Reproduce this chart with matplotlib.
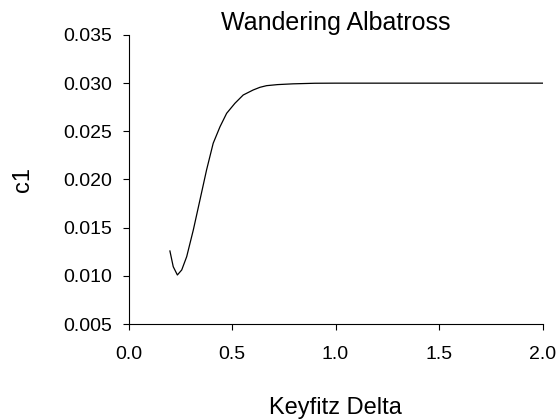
import matplotlib
matplotlib.use('Agg')
import matplotlib.pyplot as plt

# curve
delta = [0.200, 0.216, 0.236, 0.257, 0.281, 0.313, 0.345, 0.377, 0.409,
         0.442, 0.474, 0.514, 0.554, 0.602, 0.635, 0.667, 0.720, 0.795,
         0.90, 1.0, 1.5, 2.0]
c1 = [0.01258, 0.01095, 0.01009, 0.01061, 0.01199, 0.01476, 0.01787,
      0.02099, 0.02376, 0.02548, 0.02687, 0.02791, 0.02877, 0.02929,
      0.02957, 0.02974, 0.02985, 0.02993, 0.02999, 0.0300, 0.0300, 0.0300]
xticks = [0.0, 0.5, 1.0, 1.5, 2.0]
yticks = [0.005, 0.010, 0.015, 0.020, 0.025, 0.030, 0.035]

plt.rcParams['font.family'] = ['Liberation Sans', 'DejaVu Sans']

fig = plt.figure(figsize=(5.6, 4.19), dpi=100)
ax = fig.add_axes([0.2295, 0.2267, 0.7393, 0.6898])
ax.plot(delta, c1, color='black', lw=0.9)

ax.set_xlim(0, 2.0)
ax.set_ylim(0.005, 0.035)
ax.set_xticks(xticks)
ax.set_xticklabels([f'{v:.1f}' for v in xticks])
ax.set_yticks(yticks)
ax.set_yticklabels([f'{v:.3f}' for v in yticks])
ax.tick_params(direction='out', length=4, width=0.8, labelsize=14, pad=8)
ax.tick_params(axis='x', pad=12)
for s in ['top', 'right']:
    ax.spines[s].set_visible(False)
for s in ['left', 'bottom']:
    ax.spines[s].set_linewidth(0.8)

ax.set_title('Wandering Albatross', fontsize=18, pad=3)
ax.set_xlabel('Keyfitz Delta', fontsize=17, labelpad=24)
ax.set_ylabel('c1', fontsize=17, labelpad=21)

fig.savefig('out.png', dpi=100)
